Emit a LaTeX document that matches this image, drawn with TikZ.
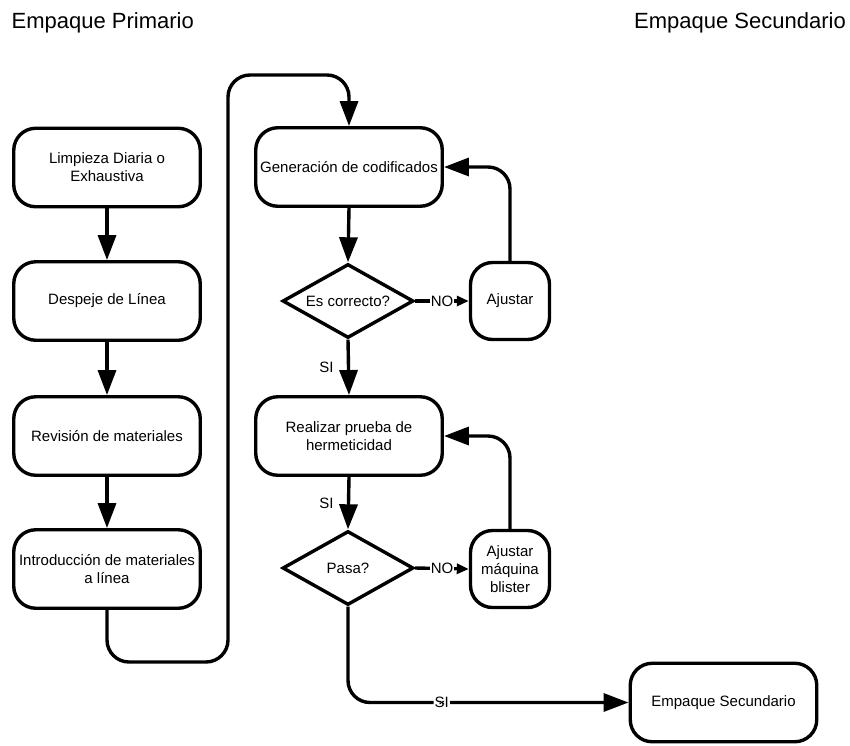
\documentclass[tikz,border=0pt]{standalone}
\usepackage{fontspec}
\setmainfont{Liberation Sans}
\usetikzlibrary{arrows.meta,shapes.geometric}

\begin{document}
\begin{tikzpicture}[x=1pt,y=-1pt,
  every node/.style={font=\fontsize{15}{18}\selectfont},
  stepbox/.style={draw, line width=3.4pt, rounded corners=22pt, minimum width=186.5pt,
    minimum height=78.5pt, align=center, inner sep=2pt},
  smallbox/.style={stepbox, minimum width=79pt, minimum height=77pt},
  decision/.style={draw, diamond, line width=3.4pt, minimum width=131pt,
    minimum height=74pt, inner sep=0pt, aspect=1.7},
  flow/.style={line width=3.4pt, -{Triangle[length=25pt,width=18pt]}},
  shortflow/.style={line width=3.4pt, -{Triangle[length=12pt,width=10pt]}},
  roundpath/.style={rounded corners=22pt},
  lbl/.style={fill=white, inner sep=1pt},
  title/.style={font=\fontsize{22}{26}\selectfont, inner sep=0pt}
]
\useasboundingbox (0,0) rectangle (850,745);

% headings
\node[title, anchor=base west] (tl) at (11.5,28) {Empaque Primario};
\node[title, anchor=base east] (tr) at (846,28) {Empaque Secundario};

% primary packaging column
\node[stepbox] (b1) at (107,167.5) {Limpieza Diaria o\\Exhaustiva};
\node[stepbox] (b2) at (107,301) {Despeje de Línea};
\node[stepbox] (b3) at (107,436) {Revisión de materiales};
\node[stepbox] (b4) at (107,569) {Introducción de materiales\\a línea};

% coding and sealing checks
\node[stepbox] (gen) at (349,167) {Generación de codificados};
\node[decision] (es) at (348,301) {Es correcto?};
\node[smallbox] (aj) at (510,301) {Ajustar};
\node[stepbox] (real) at (349,436) {Realizar prueba de\\hermeticidad};
\node[decision] (pasa) at (348,568) {Pasa?};
\node[smallbox] (ajm) at (510,569) {Ajustar\\máquina\\blister};
\node[stepbox] (sec) at (723.5,702.5) {Empaque Secundario};

% turning points of the long link between columns
\coordinate (lowturn) at (228,662);
\coordinate (highturn) at (228,75);

\draw[flow] (b1.south) -- (b2.north);
\draw[flow] (b2.south) -- (b3.north);
\draw[flow] (b3.south) -- (b4.north);
\draw[flow, roundpath] (b4.south) |- (lowturn) -- (highturn) -| (gen.north);

\draw[flow] (gen.south) -- (es.north);
\draw[shortflow] (es.east) -- node[lbl] {NO} (aj.west);
\draw[flow, roundpath] (aj.north) |- (gen.east);
\draw[flow] (es.south) -- node[left=10pt] {SI} (real.north);

\draw[flow] (real.south) -- node[left=10pt] {SI} (pasa.north);
\draw[shortflow] (pasa.east) -- node[lbl] {NO} (ajm.west);
\draw[flow, roundpath] (ajm.north) |- (real.east);
\draw[flow, roundpath] (pasa.south) |- node[lbl, pos=0.667] {SI} (sec.west);
\end{tikzpicture}
\end{document}
